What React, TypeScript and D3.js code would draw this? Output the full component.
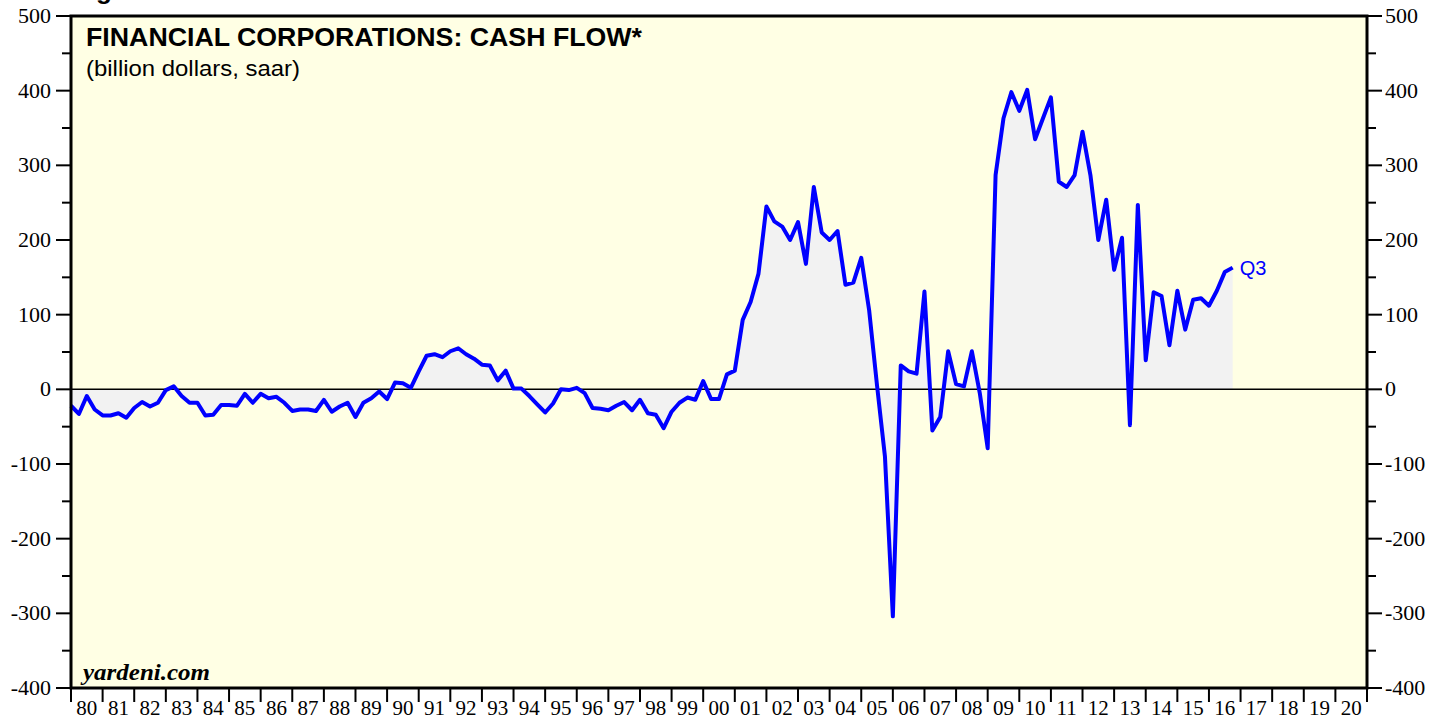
import React from "react";
import * as d3 from "d3";

// Quarterly data, first point = 1979 Q4 (plotted at quarter end)
const firstYear = 1979;
const firstQuarter = 4;
const cashFlow: number[] = [
  -22, -33, -9, -27, -35, -35, -32, -38, -25, -17, -23, -18, -1, 4, -9, -18, -18, -35, -34, -21,
  -21, -22, -6, -18, -6, -12, -10, -18, -29, -27, -27, -29, -14, -30, -23, -18, -37, -18, -12, -3,
  -13, 9,
  8, 2, 24, 45, 47, 43, 51, 55, 47, 41, 33, 32, 12, 25, 1, 1, -9, -20, -31, -19,
  0, -1, 2, -5, -25, -26, -28, -22, -17, -28, -14, -32, -34, -52, -30, -18, -11, -14, 11, -13,
  -13,
  20, 25, 93, 117, 155, 245, 225, 218, 200, 224, 168, 271, 210, 200, 212, 140, 143, 176, 106, 5,
  -90, -304, 32, 24, 21, 131, -55, -37, 51, 7, 4, 51, -5, -79,
  287, 363, 398, 373, 401, 335, 363, 391, 278, 271, 287, 345, 287, 200, 254, 160, 203, -48, 247, 39,
  130, 125, 59, 132, 80, 120, 122, 112, 132, 157, 163,
];
const yearStart = 1980;
const yearEnd = 2021;
const yTicks = [-400, -300, -200, -100, 0, 100, 200, 300, 400, 500];
const yMinorTicks = [-350, -250, -150, -50, 50, 150, 250, 350, 450];
const title = "FINANCIAL CORPORATIONS: CASH FLOW*";
const subtitle = "(billion dollars, saar)";
const lastLabel = "Q3";

export default function App() {
  const W = 1448, H = 719;
  const left = 71, right = 1367, top = 16, bottom = 688;
  const x = d3.scaleLinear().domain([yearStart, yearEnd]).range([left, right]);
  const y = d3.scaleLinear().domain([-400, 500]).range([bottom, top]);

  const pts = cashFlow.map((v, i) => ({
    t: firstYear + firstQuarter / 4 + i * 0.25,
    v,
  }));
  const line = d3.line<{ t: number; v: number }>().x((d) => x(d.t)).y((d) => y(d.v));
  const area = d3
    .area<{ t: number; v: number }>()
    .x((d) => x(d.t))
    .y0(y(0))
    .y1((d) => y(d.v));

  const years = d3.range(yearStart, yearEnd);
  const last = pts[pts.length - 1];
  const serif = "'Liberation Serif', 'Times New Roman', serif";
  const sans = "'Liberation Sans', Arial, Helvetica, sans-serif";

  return (
    <svg
      width={W}
      height={H}
      style={{ position: "absolute", left: 0, top: 0, display: "block", background: "#ffffff" }}
    >
      <text x={73} y={-1} fontFamily={sans} fontWeight="bold" fontSize={26} fill="#000">
        Figure 5.
      </text>
      <rect x={left} y={top} width={right - left} height={bottom - top} fill="#ffffe4" />
      <path d={area(pts) || ""} fill="#f2f2f2" />
      <line x1={left} x2={right} y1={y(0)} y2={y(0)} stroke="#000" strokeWidth={1.5} />
      <path d={line(pts) || ""} fill="none" stroke="#0000ff" strokeWidth={4} strokeLinejoin="round" />
      <text x={x(last.t) + 7} y={y(last.v) + 7} fontFamily={sans} fontSize={20} fill="#0000ff">
        {lastLabel}
      </text>

      {/* frame */}
      <rect x={left} y={top} width={right - left} height={bottom - top} fill="none" stroke="#000" strokeWidth={3} />

      {/* y ticks left and right */}
      {yTicks.map((t) => (
        <g key={"yt" + t}>
          <line x1={left - 15} x2={left} y1={y(t)} y2={y(t)} stroke="#000" strokeWidth={2} />
          <line x1={right} x2={right + 15} y1={y(t)} y2={y(t)} stroke="#000" strokeWidth={2} />
          <text x={51} y={y(t) + 7} textAnchor="end" fontFamily={serif} fontSize={22} fill="#000">
            {t}
          </text>
          <text x={1385} y={y(t) + 7} textAnchor="start" fontFamily={serif} fontSize={22} fill="#000">
            {t}
          </text>
        </g>
      ))}
      {yMinorTicks.map((t) => (
        <g key={"ym" + t}>
          <line x1={left - 9} x2={left} y1={y(t)} y2={y(t)} stroke="#000" strokeWidth={2} />
          <line x1={right} x2={right + 9} y1={y(t)} y2={y(t)} stroke="#000" strokeWidth={2} />
        </g>
      ))}

      {/* x ticks */}
      {d3.range(yearStart, yearEnd + 1).map((yr) => (
        <line key={"xt" + yr} x1={x(yr)} x2={x(yr)} y1={bottom} y2={bottom + 14} stroke="#000" strokeWidth={2} />
      ))}
      {years.map((yr) => (
        <text
          key={"xl" + yr}
          x={x(yr + 0.5)}
          y={715}
          textAnchor="middle"
          fontFamily={serif}
          fontSize={21}
          fill="#000"
        >
          {String(yr % 100).padStart(2, "0")}
        </text>
      ))}

      <text x={86} y={46} fontFamily={sans} fontWeight="bold" fontSize={25} fill="#000" textLength={556} lengthAdjust="spacingAndGlyphs">
        {title}
      </text>
      <text x={86} y={76} fontFamily={sans} fontSize={22} fill="#000" textLength={214} lengthAdjust="spacingAndGlyphs">
        {subtitle}
      </text>
      <text x={83} y={680} fontFamily={serif} fontWeight="bold" fontStyle="italic" fontSize={24} fill="#000" textLength={127} lengthAdjust="spacingAndGlyphs">
        yardeni.com
      </text>
    </svg>
  );
}
